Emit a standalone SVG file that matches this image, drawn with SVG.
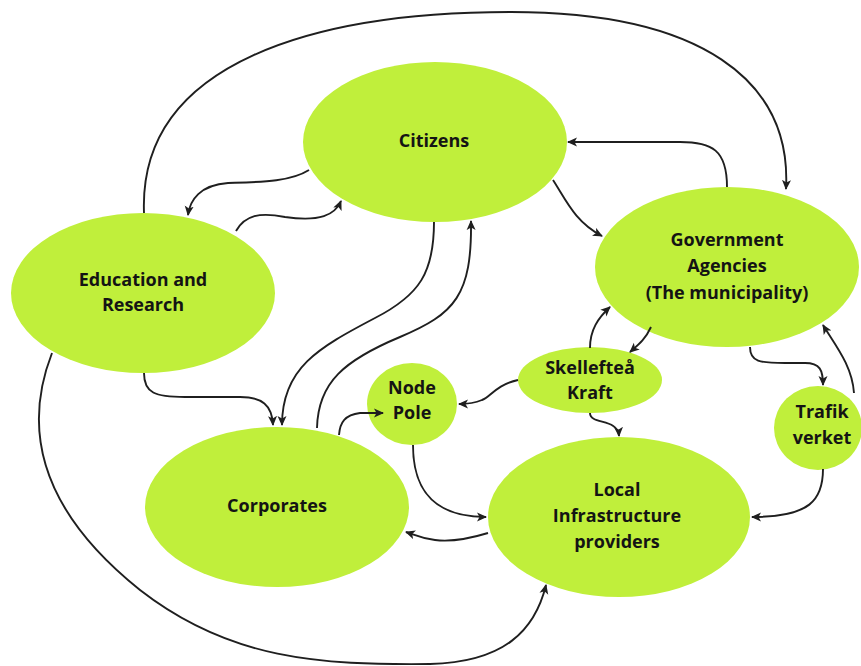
<svg xmlns="http://www.w3.org/2000/svg" width="861" height="666" viewBox="0 0 861 666">
<defs>
<marker id="ah" viewBox="0 0 10 10" refX="9" refY="5" markerWidth="10" markerHeight="10" markerUnits="userSpaceOnUse" orient="auto">
<path d="M0,0.5 L10,5 L0,9.5 L2.5,5 Z" fill="#1f1f1f"/>
</marker>
<style>
.n{fill:#c0ef3b}
.t{font-family:"Open Sans","Noto Sans",sans-serif;font-weight:bold;font-size:18px;fill:#141414;text-anchor:middle}
.c{fill:none;stroke:#1f1f1f;stroke-width:1.9;marker-end:url(#ah)}
</style>
</defs>
<rect width="861" height="666" fill="#ffffff"/>
<g id="citizens"><ellipse class="n" cx="435" cy="142" rx="132" ry="80"/><text class="t" x="434" y="147">Citizens</text></g>
<g id="government"><ellipse class="n" cx="727" cy="267" rx="132" ry="80"/><text class="t" x="727" y="246">Government</text><text class="t" x="727" y="272">Agencies</text><text class="t" x="727" y="299">(The municipality)</text></g>
<g id="education"><ellipse class="n" cx="143" cy="293" rx="132" ry="80"/><text class="t" x="143" y="286">Education and</text><text class="t" x="143" y="311">Research</text></g>
<g id="corporates"><ellipse class="n" cx="277" cy="507" rx="132" ry="80"/><text class="t" x="277" y="512">Corporates</text></g>
<g id="local"><ellipse class="n" cx="619" cy="517" rx="131" ry="80"/><text class="t" x="617" y="496">Local</text><text class="t" x="617" y="522">Infrastructure</text><text class="t" x="617" y="548">providers</text></g>
<g id="nodepole"><ellipse class="n" cx="412" cy="404" rx="45" ry="41"/><text class="t" x="412" y="394">Node</text><text class="t" x="412" y="419">Pole</text></g>
<g id="skelleftea"><ellipse class="n" cx="590" cy="380" rx="72" ry="33"/><text class="t" x="590" y="374">Skellefteå</text><text class="t" x="590" y="399">Kraft</text></g>
<g id="trafikverket"><ellipse class="n" cx="818" cy="428" rx="44" ry="42"/><text class="t" x="822" y="418">Trafik</text><text class="t" x="822" y="444">verket</text></g>
<g id="connectors">
<path class="c" d="M144,213 C138,60 320,12 511,12 C700,12 792,80 786,189"/>
<path class="c" d="M727,187 C727,150 712,142 680,142 L568,142"/>
<path class="c" d="M553,180 C566,200 575,222 602,236"/>
<path class="c" d="M309,170 C290,182 260,182 228,183 C200,185 190,200 188,215"/>
<path class="c" d="M236,231 C245,215 260,212 285,217 C320,222 335,215 341,201"/>
<path class="c" d="M434,222 C434,272 420,295 375,318 C318,348 282,368 282,425"/>
<path class="c" d="M317,428 C318,382 345,360 400,337 C455,314 472,295 471,221"/>
<path class="c" d="M144,373 C144,393 155,397 185,397 L240,397 C262,397 272,405 273,425"/>
<path class="c" d="M52,353 C22,430 40,510 140,590 C230,660 320,665 430,664 C505,662 535,630 546,585"/>
<path class="c" d="M339,435 C340,422 345,415 360,413 L383,413"/>
<path class="c" d="M518,380 C495,385 490,398 482,400 C475,403 468,404 459,404"/>
<path class="c" d="M413,445 C413,480 425,517 486,517"/>
<path class="c" d="M590,413 C590,425 618,418 619,436"/>
<path class="c" d="M651,327 C645,340 638,345 630,352"/>
<path class="c" d="M590,348 C590,330 598,318 610,307"/>
<path class="c" d="M750,347 C750,362 760,363 785,363 L805,363 C820,363 823,370 823,385"/>
<path class="c" d="M854,393 C852,365 835,345 823,325"/>
<path class="c" d="M823,469 C823,500 810,517 752,517"/>
<path class="c" d="M488,533 C465,540 450,542 435,540 C420,538 415,535 406,532"/>
</g>
</svg>
